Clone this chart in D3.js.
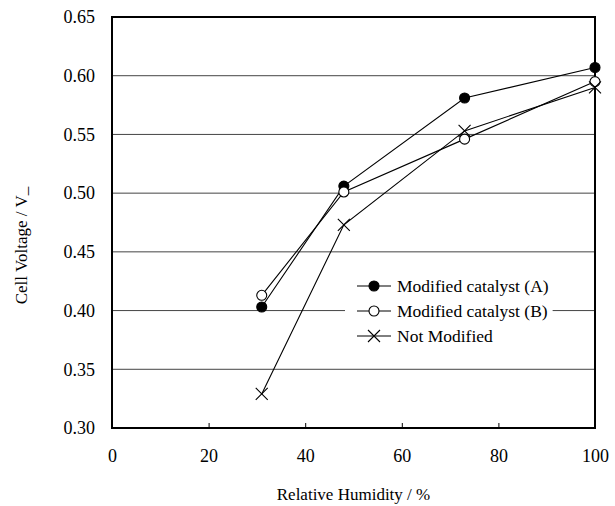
<!DOCTYPE html>
<html>
<head>
<meta charset="utf-8">
<script src="https://cdn.jsdelivr.net/npm/d3@7"></script>
<style>
  body { margin: 0; background: #fff; }
</style>
</head>
<body>
<div id="chart"></div>
<script>
// data
var humidity = [31, 48, 73, 100];
var catalystA = [0.403, 0.506, 0.581, 0.607];
var catalystB = [0.413, 0.501, 0.546, 0.595];
var notModified = [0.329, 0.473, 0.553, 0.590];
var seriesNames = ["Modified catalyst (A)", "Modified catalyst (B)", "Not Modified"];
var xTicks = [0, 20, 40, 60, 80, 100];
var yTicks = [0.30, 0.35, 0.40, 0.45, 0.50, 0.55, 0.60, 0.65];

var serif = "'Liberation Serif', 'DejaVu Serif', serif";

var margin = {top: 17, right: 20, bottom: 78, left: 112};
var width = 615 - margin.left - margin.right;
var height = 506 - margin.top - margin.bottom;

var svg = d3.select('#chart')
    .append('svg')
    .attr('width', 615)
    .attr('height', 506);

var chart = svg.append('g')
    .attr('transform', 'translate(' + margin.left + ',' + margin.top + ')');

var xScale = d3.scaleLinear().domain([0, 100]).range([0, width]);
var yScale = d3.scaleLinear().domain([0.30, 0.65]).range([height, 0]);

/*----- GRID -----*/
chart.append('g')
    .selectAll('line')
    .data(yTicks.slice(1, -1))
    .enter()
    .append('line')
    .attr('x1', 0)
    .attr('x2', width)
    .attr('y1', function(d) { return yScale(d); })
    .attr('y2', function(d) { return yScale(d); })
    .attr('stroke', '#444')
    .attr('stroke-width', 1);

/*----- AXES -----*/
var xAxis = d3.axisBottom(xScale)
    .tickValues(xTicks)
    .tickSizeInner(-5)
    .tickSizeOuter(0)
    .tickPadding(21)
    .tickFormat(d3.format('d'));
var yAxis = d3.axisLeft(yScale)
    .tickValues(yTicks)
    .tickSize(0)
    .tickPadding(17)
    .tickFormat(d3.format('.2f'));

var gx = chart.append('g')
    .attr('transform', 'translate(0,' + height + ')')
    .call(xAxis);
var gy = chart.append('g').call(yAxis);

[gx, gy].forEach(function(g) {
    g.select('.domain').remove();
    g.selectAll('text')
        .style('font-family', serif)
        .style('font-size', '18px')
        .attr('fill', '#000');
    g.selectAll('line').attr('stroke', '#000');
});

// frame around the plot
chart.append('rect')
    .attr('width', width)
    .attr('height', height)
    .attr('fill', 'none')
    .attr('stroke', '#000')
    .attr('stroke-width', 2);

/*----- LEGEND BACKGROUND (hides part of the grid) -----*/
var legend = chart.append('g')
    .attr('transform', 'translate(' + (345 - margin.left) + ',' + (262 - margin.top) + ')');
var legendBg = legend.append('rect')
    .attr('height', 88)
    .attr('fill', '#fff');

/*----- SERIES -----*/
var series = [
    {name: seriesNames[0], values: catalystA, marker: 'filled'},
    {name: seriesNames[1], values: catalystB, marker: 'open'},
    {name: seriesNames[2], values: notModified, marker: 'cross'}
];

var line = d3.line()
    .x(function(d) { return xScale(d.x); })
    .y(function(d) { return yScale(d.y); });

function drawMarker(g, type) {
    if (type == 'cross') {
        g.append('path')
            .attr('d', 'M-6,-6L6,6M-6,6L6,-6')
            .attr('stroke', '#000')
            .attr('stroke-width', 1.1)
            .attr('fill', 'none');
    } else {
        g.append('circle')
            .attr('r', 5)
            .attr('fill', type == 'filled' ? '#000' : '#fff')
            .attr('stroke', '#000')
            .attr('stroke-width', 1.1);
    }
}

series.forEach(function(s) {
    var pts = humidity.map(function(h, i) { return {x: h, y: s.values[i]}; });
    chart.append('path')
        .datum(pts)
        .attr('d', line)
        .attr('fill', 'none')
        .attr('stroke', '#000')
        .attr('stroke-width', 1.1);
    chart.selectAll(null)
        .data(pts)
        .enter()
        .append('g')
        .attr('transform', function(d) { return 'translate(' + xScale(d.x) + ',' + yScale(d.y) + ')'; })
        .each(function() { drawMarker(d3.select(this), s.marker); });
});

/*----- LEGEND -----*/
var maxText = 0;
series.forEach(function(s, i) {
    var row = legend.append('g')
        .attr('transform', 'translate(0,' + (24 + i * 25) + ')');
    row.append('line')
        .attr('x1', 12).attr('x2', 46)
        .attr('stroke', '#000')
        .attr('stroke-width', 1.1);
    drawMarker(row.append('g').attr('transform', 'translate(29,0)'), s.marker);
    var t = row.append('text')
        .attr('x', 52)
        .attr('dy', '0.35em')
        .style('font-family', serif)
        .style('font-size', '17.5px')
        .text(s.name);
    maxText = Math.max(maxText, t.node().getComputedTextLength());
});
// the white box ends just after the longest label
legendBg.attr('width', 52 + maxText + 4);

/*----- AXIS TITLES -----*/
svg.append('text')
    .attr('x', margin.left + width / 2)
    .attr('y', 500)
    .attr('text-anchor', 'middle')
    .style('font-family', serif)
    .style('font-size', '17px')
    .text('Relative Humidity / %');

svg.append('text')
    .attr('transform', 'translate(27,' + (margin.top + height / 2 + 23) + ') rotate(-90)')
    .attr('text-anchor', 'middle')
    .style('font-family', serif)
    .style('font-size', '17px')
    .text('Cell Voltage / V_');
</script>
</body>
</html>
